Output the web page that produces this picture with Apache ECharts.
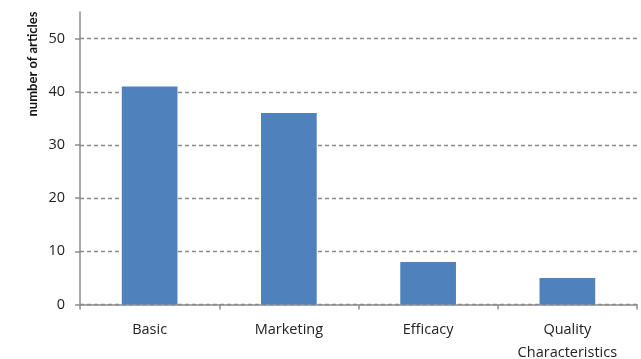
<!DOCTYPE html>
<html>
<head>
<meta charset="utf-8">
<script src="https://cdn.jsdelivr.net/npm/echarts@6/dist/echarts.min.js"></script>
<style>
  html, body { margin: 0; padding: 0; background: #fff; }
  #chart { width: 641px; height: 359px; }
</style>
</head>
<body>
<div id="chart"></div>
<script>
// Article counts per topic
const categories = ['Basic', 'Marketing', 'Efficacy', 'Quality\nCharacteristics'];
const articleCounts = [41, 36, 8, 5];
const yTicks = [0, 10, 20, 30, 40, 50];
const yAxisTitle = 'number of articles';

const font = 'Open Sans';
const chart = echarts.init(document.getElementById('chart'), null, { renderer: 'canvas' });

chart.setOption({
  animation: false,
  backgroundColor: '#ffffff',
  grid: { left: 80, right: 4, top: 12, bottom: 54.5, containLabel: false, outerBoundsMode: 'none' },
  xAxis: {
    type: 'category',
    data: categories,
    boundaryGap: true,
    axisLine: { lineStyle: { color: '#8c8c8c', width: 1.5 } },
    axisTick: { show: true, alignWithLabel: false, length: 5, lineStyle: { color: '#8c8c8c', width: 1.5 } },
    axisLabel: { color: '#222', fontFamily: font, fontSize: 14.5, margin: 14, lineHeight: 23 },
    splitLine: { show: false }
  },
  yAxis: {
    type: 'value',
    min: 0,
    max: 55,
    interval: 10,
    axisLine: { show: true, lineStyle: { color: '#8c8c8c', width: 1.5 } },
    axisTick: { show: true, length: 5, customValues: yTicks, lineStyle: { color: '#8c8c8c', width: 1.5 } },
    axisLabel: { color: '#222', fontFamily: font, fontSize: 14.5, margin: 15, customValues: yTicks },
    splitLine: { show: true, lineStyle: { color: '#8a8a8a', width: 1.3, type: [4, 3] } }
  },
  graphic: [{
    type: 'text',
    x: 33,
    y: 64,
    rotation: Math.PI / 2,
    style: {
      text: yAxisTitle,
      fill: '#111',
      font: 'bold 13px Lato',
      textAlign: 'center',
      textVerticalAlign: 'middle'
    }
  }],
  series: [{
    type: 'bar',
    data: articleCounts,
    barWidth: '40%',
    itemStyle: { color: '#4f81bd' }
  }]
});
</script>
</body>
</html>
